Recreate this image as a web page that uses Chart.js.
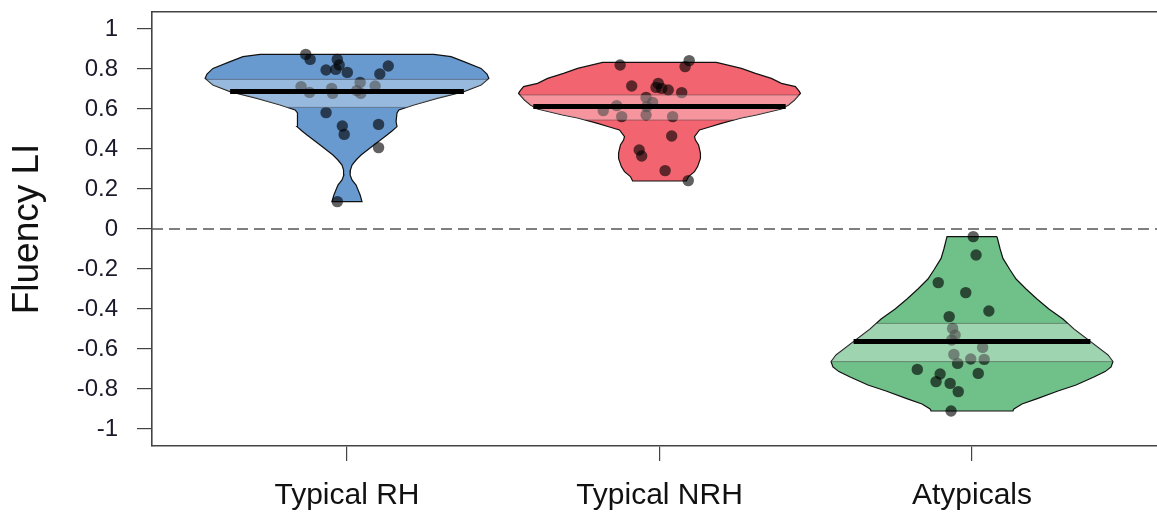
<!DOCTYPE html>
<html><head><meta charset="utf-8">
<script src="https://cdn.jsdelivr.net/npm/chart.js@4.4.0/dist/chart.umd.min.js"></script>
<style>html,body{margin:0;padding:0;background:#fff;overflow:hidden;}#wrap{width:1157px;height:517px;overflow:hidden;}canvas{display:block;}</style>
</head><body><div id="wrap"><canvas id="c" width="1157" height="517"></canvas></div>
<script>
// ---------- data ----------
const categories = ['Typical RH', 'Typical NRH', 'Atypicals'];
const xTickValues = [1, 2, 3];
const yTickValues = [1, 0.8, 0.6, 0.4, 0.2, 0, -0.2, -0.4, -0.6, -0.8, -1];
const yTickLabels = ['1', '0.8', '0.6', '0.4', '0.2', '0', '-0.2', '-0.4', '-0.6', '-0.8', '-1'];
const yTitle = 'Fluency LI';

const rhValues  = [0.873,0.848,0.848,0.82,0.795,0.798,0.783,0.775,0.815,0.712,0.683,0.703,0.678,0.733,0.692,0.678,0.715,0.582,0.515,0.473,0.523,0.407,0.137];
const rhJitter  = [-0.132,-0.118,-0.031,-0.025,-0.067,-0.036,0.001,0.105,0.132,-0.147,-0.12,-0.049,-0.046,0.042,0.031,0.044,0.09,-0.067,-0.015,-0.009,0.101,0.101,-0.031];
const nrhValues = [0.82,0.842,0.812,0.715,0.728,0.703,0.695,0.708,0.682,0.658,0.633,0.612,0.617,0.592,0.562,0.57,0.562,0.465,0.395,0.365,0.292,0.242];
const nrhJitter = [-0.126,0.095,0.082,-0.089,-0.004,0.007,0.028,-0.011,0.071,-0.043,-0.022,-0.041,-0.137,-0.18,-0.121,-0.043,0.042,0.039,-0.065,-0.057,0.018,0.092];
const atyValues = [-0.038,-0.13,-0.268,-0.318,-0.41,-0.438,-0.497,-0.53,-0.555,-0.592,-0.627,-0.672,-0.65,-0.652,-0.702,-0.725,-0.722,-0.763,-0.772,-0.813,-0.91];
const atyJitter = [0.004,0.013,-0.108,-0.02,0.054,-0.073,-0.062,-0.054,-0.065,0.034,-0.058,-0.046,-0.004,0.039,-0.175,-0.102,0.02,-0.115,-0.07,-0.044,-0.067];

// density profiles (level, half-width of bean)
const rhLevels  = [0.873,0.862,0.837,0.803,0.775,0.753,0.72,0.687,0.653,0.62,0.595,0.58,0.537,0.512,0.49,0.47,0.42,0.37,0.345,0.32,0.295,0.27,0.245,0.22,0.17,0.137];
const rhDensity = [0.278,0.333,0.374,0.429,0.448,0.454,0.429,0.374,0.288,0.214,0.166,0.16,0.157,0.16,0.144,0.128,0.086,0.045,0.029,0.016,0.011,0.01,0.016,0.029,0.042,0.048];
const nrhLevels  = [0.833,0.803,0.778,0.753,0.728,0.712,0.687,0.678,0.645,0.62,0.6,0.57,0.555,0.528,0.51,0.495,0.462,0.445,0.42,0.38,0.353,0.312,0.287,0.262,0.24];
const nrhDensity = [0.182,0.262,0.307,0.358,0.39,0.435,0.448,0.451,0.432,0.413,0.39,0.31,0.262,0.198,0.16,0.128,0.112,0.115,0.125,0.131,0.131,0.122,0.112,0.093,0.086];
const atyLevels  = [-0.038,-0.1,-0.147,-0.205,-0.25,-0.3,-0.35,-0.4,-0.45,-0.5,-0.55,-0.6,-0.63,-0.663,-0.69,-0.713,-0.74,-0.78,-0.81,-0.847,-0.875,-0.9,-0.91];
const atyDensity = [0.08,0.09,0.099,0.122,0.141,0.173,0.208,0.246,0.291,0.326,0.368,0.41,0.435,0.451,0.445,0.426,0.39,0.333,0.275,0.211,0.16,0.134,0.131];

const means    = [0.687, 0.612, -0.563];
const bandLow  = [0.608, 0.545, -0.663];
const bandHigh = [0.748, 0.670, -0.472];

// ---------- styles ----------
const fills = ['#6899cf', '#f2646f', '#70c08a'];
const FONT = '"Liberation Sans", Arial, sans-serif';
const AXIS_COLOR = '#444';
const X_MIN = 0.376, X_MAX = 3.592, Y_MIN = -1.085, Y_MAX = 1.085;

// ---------- geometry helpers built from the data ----------
function widthAt(levels, dens, v) {
  for (let i = 0; i < levels.length - 1; i++) {
    const a = levels[i], b = levels[i + 1];
    if (v <= a && v >= b) {
      const t = (a - v) / (a - b);
      return dens[i] + t * (dens[i + 1] - dens[i]);
    }
  }
  return 0;
}
function outline(c, levels, dens) {
  const right = levels.map((y, i) => ({x: c + dens[i], y}));
  const left = levels.map((y, i) => ({x: c - dens[i], y})).reverse();
  return right.concat(left, [right[0]]);
}
function band(c, levels, dens, lo, hi) {
  const ys = [hi].concat(levels.filter(y => y < hi && y > lo), [lo]);
  const ws = ys.map(y => widthAt(levels, dens, y));
  return outline(c, ys, ws);
}
function hline(c, levels, dens, v) {
  const w = widthAt(levels, dens, v);
  return [{x: c - w, y: v}, {x: c + w, y: v}];
}

const groups = [
  {levels: rhLevels, dens: rhDensity, vals: rhValues, jit: rhJitter},
  {levels: nrhLevels, dens: nrhDensity, vals: nrhValues, jit: nrhJitter},
  {levels: atyLevels, dens: atyDensity, vals: atyValues, jit: atyJitter}
];

const datasets = [];
// zero reference line
datasets.push({
  data: [{x: X_MIN, y: 0}, {x: X_MAX, y: 0}], showLine: true, pointRadius: 0,
  borderColor: '#555', borderWidth: 1.5, borderDash: [11, 6], order: 10
});
groups.forEach((g, i) => {
  const c = xTickValues[i];
  datasets.push({
    data: outline(c, g.levels, g.dens), showLine: true, fill: 'shape', tension: 0,
    backgroundColor: fills[i], borderColor: '#111', borderWidth: 1.2, pointRadius: 0, order: 9
  });
  datasets.push({
    data: g.vals.map((v, k) => ({x: c + g.jit[k], y: v})), showLine: false,
    pointRadius: 5.7, pointBackgroundColor: 'rgba(0,0,0,0.62)', pointBorderWidth: 0, order: 8
  });
  datasets.push({
    data: band(c, g.levels, g.dens, bandLow[i], bandHigh[i]), showLine: true, fill: 'shape', tension: 0,
    backgroundColor: 'rgba(255,255,255,0.32)', borderColor: 'rgba(0,0,0,0)', borderWidth: 0, pointRadius: 0, order: 7
  });
  [bandLow[i], bandHigh[i]].forEach(v => datasets.push({
    data: hline(c, g.levels, g.dens, v), showLine: true, pointRadius: 0,
    borderColor: 'rgba(60,60,60,0.45)', borderWidth: 1, order: 6
  }));
  datasets.push({
    data: hline(c, g.levels, g.dens, means[i]), showLine: true, pointRadius: 0,
    borderColor: '#000', borderWidth: 5, borderCapStyle: 'butt', order: 5
  });
});

function fixV(w) { return s => { s.width = w; s.paddingTop = 0; s.paddingBottom = 0; }; }
function fixH(h) { return s => { s.height = h; s.paddingLeft = 0; s.paddingRight = 0; }; }

new Chart(document.getElementById('c'), {
  type: 'scatter',
  data: {datasets},
  options: {
    responsive: false, animation: false, devicePixelRatio: 1,
    layout: {autoPadding: false, padding: {top: 12, left: 0, right: 0, bottom: 0}},
    plugins: {legend: {display: false}, tooltip: {enabled: false}},
    elements: {point: {hoverRadius: 5.7}},
    scales: {
      x: {
        type: 'linear', position: 'bottom', min: X_MIN, max: X_MAX,
        afterBuildTicks: s => { s.ticks = xTickValues.map(v => ({value: v})); },
        afterFit: fixH(71),
        ticks: {
          callback: (v, i) => categories[i], autoSkip: false, maxRotation: 0,
          padding: 17, color: '#111', font: {family: FONT, size: 30}
        },
        grid: {drawOnChartArea: false, drawTicks: true, tickLength: 15, color: AXIS_COLOR, lineWidth: 1.2},
        border: {display: true, color: AXIS_COLOR, width: 1.6}
      },
      xTop: {
        type: 'linear', position: 'top', min: X_MIN, max: X_MAX,
        afterBuildTicks: s => { s.ticks = []; },
        afterFit: fixH(0),
        ticks: {display: false},
        grid: {drawOnChartArea: false, drawTicks: false},
        border: {display: true, color: AXIS_COLOR, width: 1.6}
      },
      y: {
        type: 'linear', position: 'left', min: Y_MIN, max: Y_MAX,
        afterBuildTicks: s => { s.ticks = yTickValues.map(v => ({value: v})); },
        afterFit: fixV(152),
        ticks: {
          callback: (v, i) => yTickLabels[i], padding: 19, color: '#1a1a2a',
          font: {family: FONT, size: 24}
        },
        grid: {drawOnChartArea: false, drawTicks: true, tickLength: 15, color: AXIS_COLOR, lineWidth: 1.2},
        border: {display: true, color: AXIS_COLOR, width: 1.6},
        title: {display: true, text: yTitle, color: '#111', font: {family: FONT, size: 37}, padding: {top: 6, bottom: 0}}
      }
    }
  }
});
</script>
</body></html>
